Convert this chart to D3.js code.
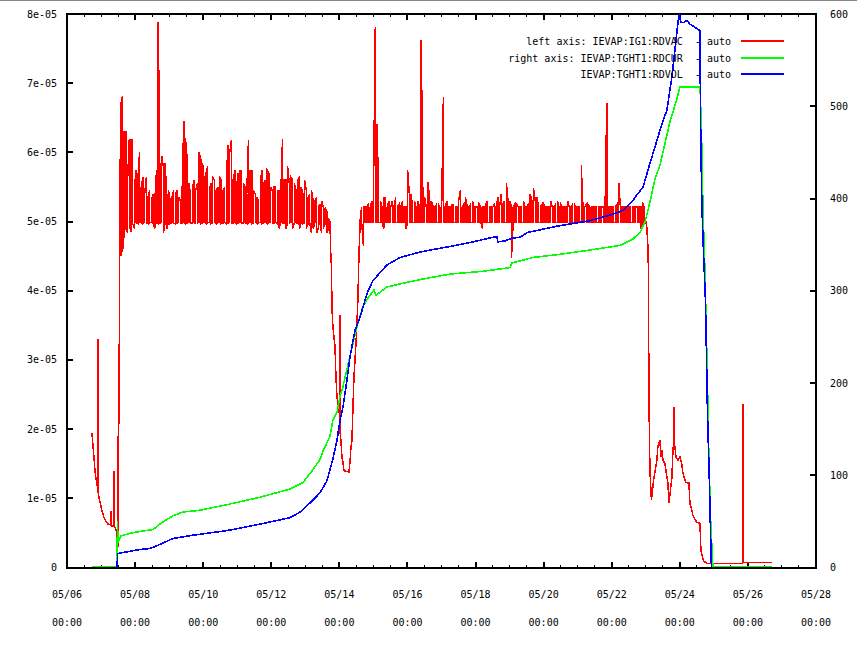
<!DOCTYPE html>
<html><head><meta charset="utf-8">
<script src="https://cdn.jsdelivr.net/npm/d3@7"></script>
<style>
body{margin:0;background:#fff}
svg text{font-family:"DejaVu Sans Mono","Liberation Mono",monospace;font-size:10px;fill:#000}
</style>
</head><body>
<svg id="chart" width="857" height="651"></svg>
<script>
// ---------------- DATA ----------------
const startDate = Date.UTC(2009, 4, 6);   // 05/06 00:00
const endDate   = Date.UTC(2009, 4, 28);  // 05/28 00:00
const leftTicks = [0, 1e-5, 2e-5, 3e-5, 4e-5, 5e-5, 6e-5, 7e-5, 8e-5];
const leftTickLabels = ["0", "1e-05", "2e-05", "3e-05", "4e-05", "5e-05", "6e-05", "7e-05", "8e-05"];
const rightTicks = [0, 100, 200, 300, 400, 500, 600];
const seriesTitles = [
  "left axis: IEVAP:IG1:RDVAC  - auto",
  "right axis: IEVAP:TGHT1:RDCUR  - auto",
  "IEVAP:TGHT1:RDVOL  - auto"
];
const seriesColors = ["#ff0000", "#00ff00", "#0000ff"];
const RED_UNIT = 1e-5; // red values below are in units of 1e-05

// Red (left axis), times in days since 05/06 00:00
const redHeadDays = [0.734,0.764,0.793,0.822,0.852,0.881,0.905,0.910,0.915,0.925,0.969,1.028,1.087,1.145,1.204,1.263,1.287,1.292,1.297,1.322,1.375,1.380,1.385,1.410,1.439,1.462,1.468,1.475,1.483,1.490,1.498,1.520,1.540,1.556];
const redHeadVals = [1.94,1.75,1.58,1.40,1.28,1.20,1.15,3.30,1.10,1.05,0.95,0.82,0.72,0.66,0.63,0.62,0.61,0.82,0.61,0.60,0.59,1.40,0.59,0.58,0.55,0.50,0.02,0.02,1.90,0.30,0.30,2.00,3.60,5.90];

// Plateaus: per time bin (0.05 day wide) the highest and lowest reading
const redBinStep = 0.05;
const redPlateau1Start = 1.58;
const redPlateau1Hi = [
 6.70,6.82,6.30,6.30,5.60,6.20,6.18,6.18,5.50,5.74,
 5.60,6.00,5.50,5.64,5.40,5.64,5.35,5.45,5.30,5.40,
 5.30,5.74,7.88,5.60,5.95,5.80,5.85,5.40,5.45,5.30,
 5.35,5.45,5.40,5.45,5.35,5.30,5.40,6.45,6.20,5.90,
 5.55,5.40,5.45,5.60,5.45,5.55,6.00,5.90,5.85,5.60,
 5.70,5.80,5.45,5.55,5.64,5.60,5.45,5.50,5.64,5.60,
 5.45,5.50,5.64,6.10,6.00,6.18,5.60,5.74,5.50,5.70,
 5.74,5.74,5.55,5.50,5.40,6.18,5.74,5.74,5.45,5.40,
 5.35,5.30,5.60,5.74,5.55,5.60,5.74,5.70,5.50,5.45,
 5.50,5.50,5.45,5.45,5.40,6.19,5.60,5.60,5.80,5.55,
 5.64,5.60,5.55,5.45,5.60,5.64,5.50,5.40,5.60,5.45,
 5.35,5.40,5.45,5.30,5.30,5.35,5.20,5.25,5.30,5.20,
 5.20,5.15,5.05,5.00
];
const redPlateau1Lo = [
 4.50,4.56,4.83,4.90,4.83,4.95,4.85,4.97,4.90,4.98,
 4.97,5.00,4.98,4.97,5.00,4.98,4.97,4.98,4.99,4.97,
 4.90,4.98,4.97,4.98,4.99,4.83,4.97,4.90,4.98,4.97,
 4.99,4.98,4.97,4.98,4.99,4.97,4.98,4.99,4.97,4.98,
 4.99,4.97,4.98,4.99,4.97,4.98,4.99,4.97,4.98,4.99,
 4.97,4.98,4.99,4.97,4.98,4.99,4.97,4.98,4.99,4.97,
 4.98,4.99,4.97,4.98,4.99,4.97,4.98,4.99,4.97,4.98,
 4.99,4.97,4.98,4.99,4.97,4.98,4.99,4.97,4.98,4.99,
 4.97,4.98,4.99,4.97,4.98,4.99,4.97,4.98,4.99,4.97,
 4.98,4.99,4.97,4.90,4.99,4.97,4.98,4.90,4.97,4.98,
 4.99,4.90,4.98,4.99,4.97,4.90,4.99,4.97,4.98,4.90,
 4.97,4.98,4.83,4.90,4.98,4.83,4.90,4.97,4.83,4.90,
 4.97,4.83,4.90,4.90
];
const redDipDays = [7.739,7.768,7.783,7.812,7.871,7.900,7.930,7.989,8.013,8.018,8.023,8.038,8.076,8.106,8.135,8.282,8.311,8.341,8.370,8.399,8.429,8.488,8.517,8.546,8.576];
const redDipVals = [4.63,4.35,3.75,3.47,3.20,2.75,2.46,2.25,2.20,3.65,1.95,1.88,1.60,1.52,1.40,1.38,1.52,1.74,1.84,2.31,2.75,3.24,3.53,3.90,4.54];

const redPlateau2Start = 8.605;
const redPlateau2Hi = [
 5.00,5.21,5.21,5.21,5.21,5.25,5.21,5.30,5.56,7.81,
 6.41,5.40,5.30,5.21,5.35,5.35,5.21,5.30,5.21,5.30,
 5.21,5.35,5.21,5.25,5.21,5.30,5.21,5.21,5.74,5.40,
 5.40,5.21,5.30,5.21,5.30,5.21,7.63,5.25,5.35,5.21,
 5.57,5.30,5.30,5.21,5.21,5.25,5.25,5.21,5.21,6.80,
 5.21,5.30,5.21,5.21,5.25,5.25,5.21,5.21,5.30,5.45,
 5.21,5.25,5.35,5.21,5.21,5.25,5.30,5.21,5.21,5.21,
 5.25,5.21,5.21,5.21,5.25,5.30,5.21,5.21,5.21,5.25,
 5.21,5.35,5.21,5.40,5.25,5.30,5.56,5.30,5.30,5.21,
 5.21,5.25,5.25,5.21,5.21,5.21,5.30,5.21,5.21,5.25,
 5.40,5.30,5.48,5.30,5.35,5.21,5.21,5.25,5.25,5.21,
 5.21,5.21,5.30,5.21,5.21,5.25,5.30,5.21,5.25,5.21,
 5.21,5.21,5.30,5.21,5.21,5.25,5.25,5.21,5.21,5.21,
 5.82,5.21,5.21,5.25,5.25,5.21,5.21,5.21,5.21,5.21,
 5.21,5.21,5.21,5.21,5.21,6.71,5.21,5.21,5.21,5.21,
 5.21,5.25,5.56,5.21,5.21,5.21,5.21,5.21,5.21,5.21,
 5.21,5.21,5.21,5.21,5.21,5.21,5.28,5.21
];
const redPlateau2Lo = [
 4.90,4.99,4.65,4.99,4.99,4.99,4.99,4.99,4.99,4.99,
 4.99,4.99,4.99,4.99,4.90,4.99,4.99,4.99,4.99,4.99,
 4.99,4.99,4.99,4.99,4.99,4.99,4.99,4.90,4.99,4.99,
 4.99,4.99,4.99,4.99,4.99,4.99,4.99,4.99,4.99,4.99,
 4.99,4.99,4.99,4.99,4.99,4.99,4.99,4.99,4.99,4.99,
 4.99,4.99,4.99,4.99,4.99,4.99,4.99,4.99,4.99,4.99,
 4.99,4.99,4.99,4.99,4.99,4.99,4.99,4.99,4.99,4.99,
 4.99,4.99,4.90,4.99,4.99,4.99,4.99,4.99,4.99,4.99,
 4.99,4.99,4.99,4.99,4.99,4.99,4.99,4.99,4.99,4.47,
 4.99,4.99,4.99,4.99,4.99,4.99,4.99,4.99,4.99,4.99,
 4.99,4.99,4.99,4.99,4.99,4.99,4.99,4.99,4.99,4.99,
 4.99,4.99,4.99,4.99,4.99,4.99,4.99,4.99,4.99,4.99,
 4.99,4.99,4.99,4.99,4.99,4.99,4.99,4.99,4.99,4.99,
 4.99,4.99,4.99,4.99,4.99,4.99,4.99,4.99,4.99,4.99,
 4.99,4.99,4.99,4.99,4.99,4.99,4.99,4.99,4.99,4.99,
 4.99,4.99,4.99,4.99,4.99,4.99,4.99,4.99,4.99,4.99,
 4.99,4.99,4.99,4.99,4.99,4.90,4.99,4.95
];
const redTailDays = [17.004,17.034,17.063,17.078,17.093,17.122,17.166,17.195,17.240,17.328,17.357,17.416,17.445,17.475,17.504,17.563,17.622,17.651,17.680,17.768,17.798,17.822,17.827,17.832,17.857,17.886,17.945,18.004,18.062,18.092,18.180,18.268,18.297,18.356,18.386,18.503,18.591,18.620,18.678,18.708,18.796,19.833,19.838,19.853,19.868,19.873,20.705];
const redTailVals = [5.00,4.90,4.63,4.30,2.43,1.40,0.97,1.11,1.30,1.55,1.76,1.84,1.60,1.70,1.55,1.50,1.30,1.22,0.93,1.30,1.70,1.80,2.32,1.80,1.74,1.60,1.55,1.60,1.48,1.36,1.23,1.22,0.93,0.82,0.75,0.65,0.64,0.25,0.13,0.09,0.06,0.06,0.06,2.37,0.07,0.07,0.07];

// Green (right axis) : IEVAP:TGHT1:RDCUR
const greenDays = [0.734,1.468,1.483,1.498,1.527,1.586,1.850,2.144,2.526,2.731,2.937,3.113,3.407,3.906,4.699,5.668,6.549,6.931,7.225,7.430,7.518,7.724,7.812,7.930,8.018,8.106,8.311,8.517,8.693,8.840,8.987,9.017,9.076,9.398,9.985,10.367,11.248,12.217,13.010,13.069,13.686,14.391,15.360,16.241,16.623,16.828,16.975,17.122,17.269,17.416,17.710,17.915,18.004,18.591,18.605,18.649,18.678,18.737,18.811,18.855,18.913,18.972,20.705];
const greenVals = [0,0,49,26,29,33,36,38,40,46,51,55,59,61,67,75,84,91,105,116,125,141,159,167,184,195,228,260,282,291,298,300,294,303,308,311,317,320,324,329,335,338,343,348,355,362,373,395,420,435,482,507,520,520,510,452,391,322,203,116,43,0,0];

// Blue (right axis) : IEVAP:TGHT1:RDVOL
const blueDays = [1.468,1.489,1.615,1.762,2.144,2.438,2.731,3.113,3.700,4.699,5.668,6.549,6.843,7.225,7.430,7.636,7.812,7.930,8.018,8.106,8.223,8.311,8.458,8.605,8.811,8.987,9.398,9.780,10.367,11.248,11.924,12.511,12.628,12.658,12.863,13.069,13.304,13.510,14.391,15.360,15.947,16.329,16.623,16.740,16.916,17.122,17.328,17.416,17.621,17.768,17.856,17.974,18.033,18.121,18.180,18.239,18.297,18.386,18.503,18.591,18.605,18.620,18.649,18.693,18.752,18.781,18.811,18.870,18.899,18.928];
const blueVals = [0,15,16,17,19.5,20.6,25,31.5,35,40,47,54,60,73,81,94,118,138,159,174,203,228,257,271,297,311,328,336,342,348,353,358,358,353,354,357,358,363,370,376,382,387,398,404,412,438,463,474,496,532,561,600,591,591,593,592,589,587,584,582,509,452,391,344,290,235,170,91,43,0];

// ---------------- BUILD ----------------
const DAY = 864e5;
const toDate = d => new Date(startDate + d * DAY);
const zipPts = (days, vals, k) => days.map((d, i) => ({t: toDate(d), v: vals[i] * k}));
// each bin becomes a vertical stroke between its low and high reading (alternating direction)
const binPts = (start, hi, lo, k) => {
  const out = [];
  hi.forEach((h, i) => {
    const t = toDate(start + i * redBinStep);
    if (i % 2 === 0) { out.push({t, v: lo[i] * k}, {t, v: h * k}); }
    else { out.push({t, v: h * k}, {t, v: lo[i] * k}); }
  });
  return out;
};

const redData = [].concat(
  zipPts(redHeadDays, redHeadVals, RED_UNIT),
  binPts(redPlateau1Start, redPlateau1Hi, redPlateau1Lo, RED_UNIT),
  zipPts(redDipDays, redDipVals, RED_UNIT),
  binPts(redPlateau2Start, redPlateau2Hi, redPlateau2Lo, RED_UNIT),
  zipPts(redTailDays, redTailVals, RED_UNIT)
);
const greenData = zipPts(greenDays, greenVals, 1);
const blueData = zipPts(blueDays, blueVals, 1);

const svg = d3.select("#chart");
const L = 67, R = 816, T = 14, B = 567.5;

const x = d3.scaleUtc().domain([new Date(startDate), new Date(endDate)]).range([L, R]);
const yL = d3.scaleLinear().domain([0, 8e-5]).range([B, T]);
const yR = d3.scaleLinear().domain([0, 600]).range([B, T]);

// top gray rule of the window
svg.append("line").attr("x1", 0).attr("x2", 857).attr("y1", 0.5).attr("y2", 0.5)
  .attr("stroke", "#888").attr("stroke-width", 1);

// ---------------- AXES (drawn first, data on top) ----------------
const ax = svg.append("g").attr("shape-rendering", "crispEdges");
ax.append("rect").attr("x", L).attr("y", T).attr("width", R - L).attr("height", B - T)
  .attr("fill", "none").attr("stroke", "#000").attr("stroke-width", 2);

const majorX = d3.utcDay.range(new Date(startDate), new Date(endDate + 1), 2);
const minorX = d3.utcHour.range(new Date(startDate), new Date(endDate + 1), 12);

minorX.forEach(t => {
  const xx = x(t);
  ax.append("line").attr("x1", xx).attr("x2", xx).attr("y1", B).attr("y2", B - 3).attr("stroke", "#000").attr("stroke-width", 1);
  ax.append("line").attr("x1", xx).attr("x2", xx).attr("y1", T).attr("y2", T + 3).attr("stroke", "#000").attr("stroke-width", 1);
});
majorX.forEach(t => {
  const xx = x(t);
  ax.append("line").attr("x1", xx).attr("x2", xx).attr("y1", B).attr("y2", B - 6).attr("stroke", "#000").attr("stroke-width", 2);
  ax.append("line").attr("x1", xx).attr("x2", xx).attr("y1", T).attr("y2", T + 6).attr("stroke", "#000").attr("stroke-width", 2);
  svg.append("text").attr("x", xx).attr("y", 594).attr("dy", "0.35em").attr("text-anchor", "middle")
    .text(d3.utcFormat("%m/%d")(t));
  svg.append("text").attr("x", xx).attr("y", 622).attr("dy", "0.35em").attr("text-anchor", "middle")
    .text(d3.utcFormat("%H:%M")(t));
});

leftTicks.forEach((v, i) => {
  const yy = yL(v);
  ax.append("line").attr("x1", L).attr("x2", L + 6).attr("y1", yy).attr("y2", yy).attr("stroke", "#000").attr("stroke-width", 2);
  svg.append("text").attr("x", 57).attr("y", yy).attr("dy", "0.35em").attr("text-anchor", "end").text(leftTickLabels[i]);
});
rightTicks.forEach(v => {
  const yy = yR(v);
  ax.append("line").attr("x1", R).attr("x2", R - 6).attr("y1", yy).attr("y2", yy).attr("stroke", "#000").attr("stroke-width", 2);
  svg.append("text").attr("x", 830).attr("y", yy).attr("dy", "0.35em").attr("text-anchor", "start").text(String(v));
});

// ---------------- DATA LINES ----------------
svg.append("clipPath").attr("id", "plotclip").append("rect")
  .attr("x", L).attr("y", T).attr("width", R - L).attr("height", B - T + 0.5);

const g = svg.append("g").attr("clip-path", "url(#plotclip)");
const lineL = d3.line().x(d => x(d.t)).y(d => yL(d.v));
const lineR = d3.line().x(d => x(d.t)).y(d => yR(d.v));

g.append("path").datum(redData).attr("d", lineL).attr("fill", "none")
  .attr("stroke", seriesColors[0]).attr("stroke-width", 1.5).attr("stroke-linejoin", "miter")
  .attr("shape-rendering", "crispEdges");
g.append("path").datum(greenData).attr("d", lineR).attr("fill", "none")
  .attr("stroke", seriesColors[1]).attr("stroke-width", 1.6).attr("shape-rendering", "crispEdges")
  .attr("transform", "translate(0,-1)");
g.append("path").datum(blueData).attr("d", lineR).attr("fill", "none")
  .attr("stroke", seriesColors[2]).attr("stroke-width", 1.6).attr("shape-rendering", "crispEdges");

// ---------------- LEGEND ----------------
const legY = [41, 58, 74];
seriesTitles.forEach((s, i) => {
  svg.append("text").attr("x", 731).attr("y", legY[i]).attr("dy", "0.35em").attr("text-anchor", "end")
    .style("white-space", "pre").text(s);
  svg.append("line").attr("x1", 741).attr("x2", 784).attr("y1", legY[i]).attr("y2", legY[i])
    .attr("stroke", seriesColors[i]).attr("stroke-width", 1.2).attr("shape-rendering", "crispEdges");
});
</script>
</body></html>
